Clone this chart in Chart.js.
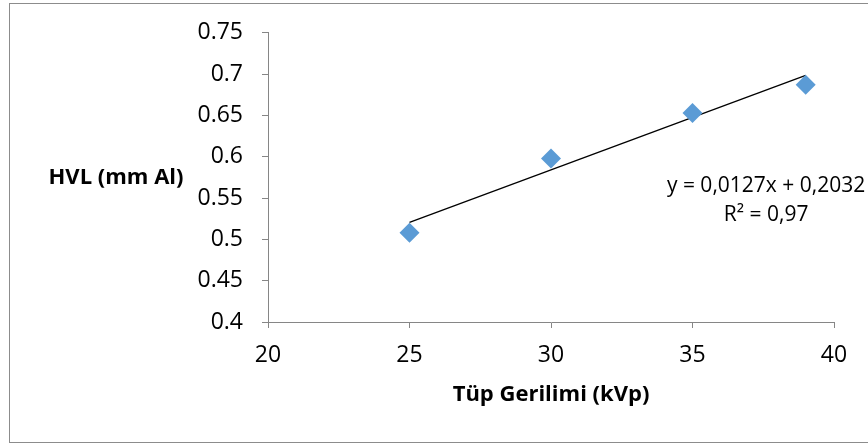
<!DOCTYPE html>
<html>
<head>
<meta charset="utf-8">
<script src="https://cdn.jsdelivr.net/npm/chart.js@4.4.1/dist/chart.umd.min.js"></script>
<style>
  html, body { margin: 0; padding: 0; background: #fff; }
  #wrap { position: relative; width: 868px; height: 445px; overflow: hidden; }
  #frame { position: absolute; left: 9px; top: 3px; width: 880px; height: 440px; border: 1px solid #8c8c8c; box-sizing: border-box; pointer-events: none; }
  canvas { position: absolute; left: 0; top: 0; }
</style>
</head>
<body>
<div id="wrap">
  <canvas id="hvl" width="868" height="445"></canvas>
  <div id="frame"></div>
</div>
<script>
// measured half value layer per tube voltage
const kvp = [25, 30, 35, 39];
const hvl = [0.508, 0.598, 0.653, 0.687];

// linear trend fitted to the measurements
const slope = 0.0127;
const intercept = 0.2032;
const rSquared = 0.97;

const xTicks = [20, 25, 30, 35, 40];
const yTicks = [0.4, 0.45, 0.5, 0.55, 0.6, 0.65, 0.7, 0.75];

const FONT = "'Open Sans', 'DejaVu Sans', sans-serif";
const fmt = (v, d) => v.toFixed(d).replace(".", ",");

const trendX = [kvp[0], kvp[kvp.length - 1]];

// horizontal y title and the trend equation
const extraText = {
  id: "extraText",
  afterDraw(chart) {
    const { ctx, chartArea, scales } = chart;
    ctx.save();
    ctx.fillStyle = "#000";
    ctx.textAlign = "center";
    ctx.textBaseline = "middle";
    ctx.font = "bold 22px " + FONT;
    ctx.fillText("HVL (mm Al)", 116, (chartArea.top + chartArea.bottom) / 2);

    ctx.font = "21px " + FONT;
    const ex = scales.x.getPixelForValue(37.6);
    const ey = scales.y.getPixelForValue(0.565);
    ctx.fillText("y = " + fmt(slope, 4) + "x + " + fmt(intercept, 4), ex, ey);
    ctx.fillText("R² = " + fmt(rSquared, 2), ex, ey + 29);
    ctx.restore();
  }
};

new Chart(document.getElementById("hvl"), {
  type: "scatter",
  data: {
    datasets: [
      {
        label: "HVL",
        data: kvp.map((x, i) => ({ x, y: hvl[i] })),
        pointStyle: "rectRot",
        pointRadius: 10,
        pointHoverRadius: 10,
        backgroundColor: "#5b9bd5",
        borderColor: "#5b9bd5",
        borderWidth: 0,
        order: 1
      },
      {
        label: "Trend",
        type: "line",
        data: trendX.map(x => ({ x, y: slope * x + intercept })),
        borderColor: "#000",
        borderWidth: 1.3,
        pointRadius: 0,
        fill: false,
        order: 2
      }
    ]
  },
  options: {
    responsive: false,
    animation: false,
    layout: { padding: { left: 150, top: 22, right: 34, bottom: 0 } },
    plugins: {
      legend: { display: false },
      tooltip: { enabled: false }
    },
    scales: {
      x: {
        type: "linear",
        min: 20,
        max: 40,
        afterBuildTicks: s => { s.ticks = xTicks.map(v => ({ value: v })); },
        afterFit: s => { s.height = 123; },
        grid: { drawOnChartArea: false, drawTicks: true, tickLength: 6, color: "#868686" },
        border: { color: "#868686", width: 1 },
        ticks: { color: "#000", font: { family: FONT, size: 23 }, padding: 14 },
        title: {
          display: true,
          text: "Tüp Gerilimi (kVp)",
          color: "#000",
          font: { family: FONT, size: 22, weight: "bold" },
          padding: { top: 8, bottom: 37 }
        }
      },
      y: {
        type: "linear",
        min: 0.4,
        max: 0.75,
        afterBuildTicks: s => { s.ticks = yTicks.map(v => ({ value: v })); },
        afterFit: s => { s.width = 118; },
        grid: { drawOnChartArea: false, drawTicks: true, tickLength: 6, color: "#868686" },
        border: { color: "#868686", width: 1 },
        ticks: {
          color: "#000",
          font: { family: FONT, size: 23 },
          padding: 19,
          callback: v => String(Math.round(v * 100) / 100)
        }
      }
    }
  },
  plugins: [extraText]
});
</script>
</body>
</html>
